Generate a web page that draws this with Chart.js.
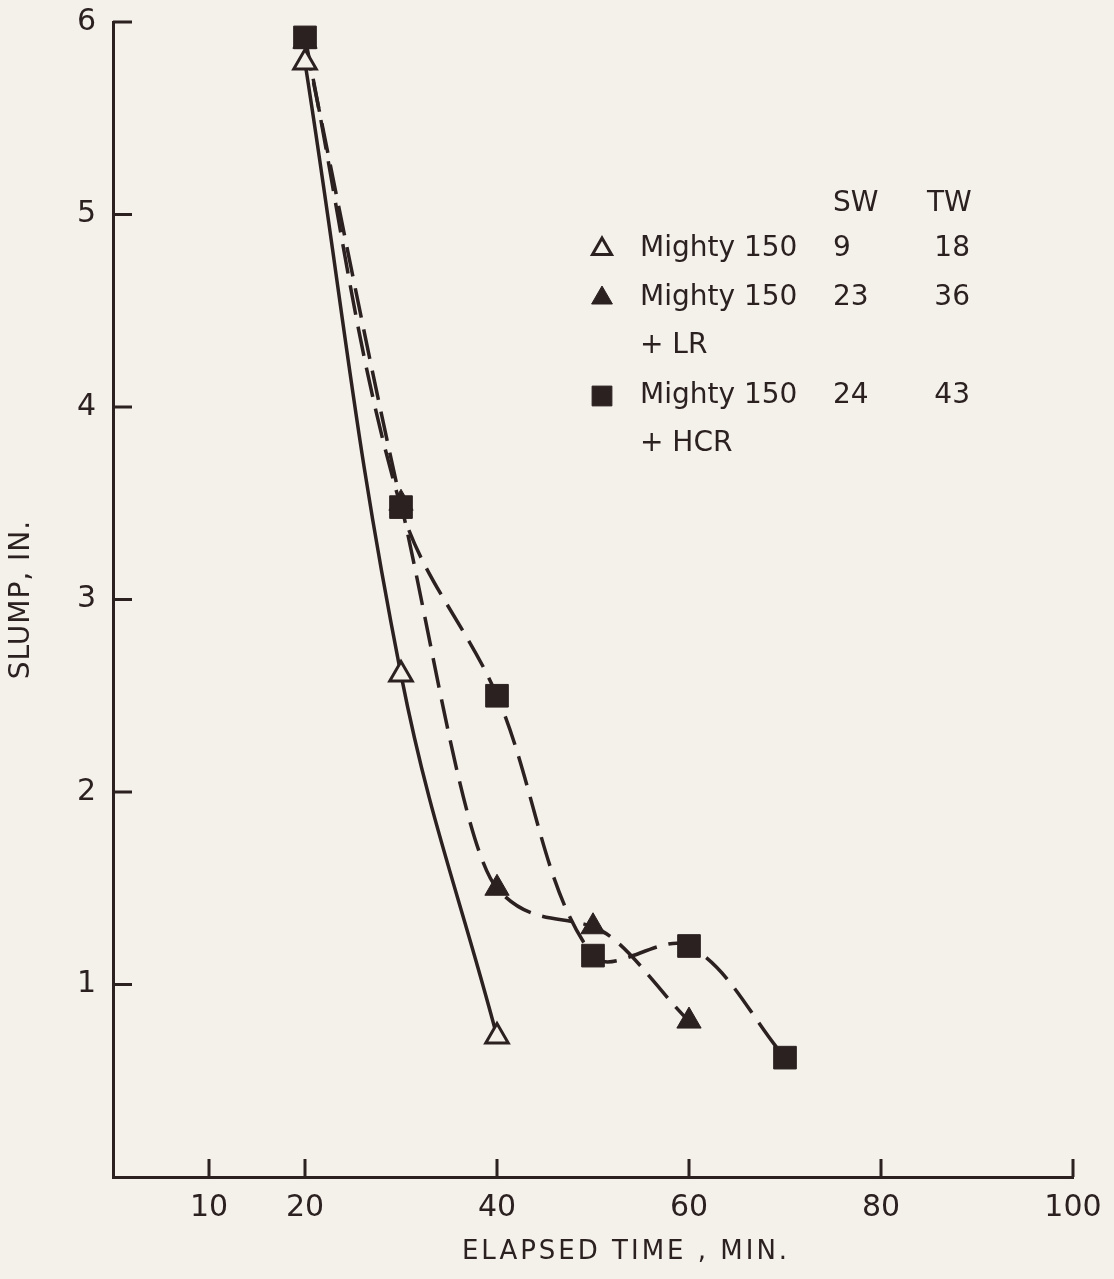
<!DOCTYPE html>
<html>
<head>
<meta charset="utf-8">
<title>Slump loss</title>
<script src="https://cdn.jsdelivr.net/npm/chart.js@4.4.1/dist/chart.umd.min.js"></script>
<style>
  html, body { margin: 0; padding: 0; background: #f4f0ea; }
  #wrap { width: 1114px; height: 1279px; }
</style>
</head>
<body>
<div id="wrap"><canvas id="slumpChart" width="1114" height="1279"></canvas></div>
<script>
const ink = "#2b2121";
const paper = "#f4f0ea";
const font = "'DejaVu Sans', 'Liberation Sans', sans-serif";

// axis ticks
const xTicks = [10, 20, 40, 60, 80, 100];
const yTicks = [1, 2, 3, 4, 5, 6];

// slump (in.) against elapsed time (min.)
const timesPlain = [20, 30, 40];
const slumpPlain = [5.79, 2.61, 0.73];

const timesLR = [20, 30, 40, 50, 60];
const slumpLR = [5.9, 3.5, 1.5, 1.3, 0.81];

const timesHCR = [20, 30, 40, 50, 60, 70];
const slumpHCR = [5.92, 3.48, 2.5, 1.15, 1.2, 0.62];

// key: name, SW and TW columns
const keyNames = [["Mighty 150"], ["Mighty 150", "+ LR"], ["Mighty 150", "+ HCR"]];
const keyStyles = ["open", "triangle", "rect"];
const keySW = ["9", "23", "24"];
const keyTW = ["18", "36", "43"];

const toPoints = (xs, ys) => xs.map((x, i) => ({ x: x, y: ys[i] }));

const markers = {
  open: { pointStyle: "triangle", radius: 13, fill: paper, borderWidth: 3 },
  triangle: { pointStyle: "triangle", radius: 14, fill: ink, borderWidth: 1 },
  rect: { pointStyle: "rect", radius: 16, fill: ink, borderWidth: 1 },
};

const paperBackground = {
  id: "paperBackground",
  beforeDraw(chart) {
    const { ctx, width, height } = chart;
    ctx.save();
    ctx.fillStyle = paper;
    ctx.fillRect(0, 0, width, height);
    ctx.restore();
  },
};

// inward tick marks, axis titles and the key
const annotations = {
  id: "annotations",
  afterDraw(chart) {
    const { ctx, chartArea, scales: { x, y } } = chart;
    ctx.save();
    ctx.strokeStyle = ink;
    ctx.lineWidth = 3;
    ctx.beginPath();
    xTicks.forEach((v) => {
      const px = x.getPixelForValue(v);
      ctx.moveTo(px, chartArea.bottom);
      ctx.lineTo(px, chartArea.bottom - 18);
    });
    yTicks.forEach((v) => {
      const py = y.getPixelForValue(v);
      ctx.moveTo(chartArea.left, py);
      ctx.lineTo(chartArea.left + 19, py);
    });
    ctx.stroke();

    ctx.fillStyle = ink;
    ctx.textBaseline = "middle";

    // x title
    ctx.font = "26px " + font;
    ctx.letterSpacing = "3px";
    ctx.textAlign = "center";
    ctx.fillText("ELAPSED TIME , MIN.", 626, 1252);

    // y title
    ctx.save();
    ctx.translate(22, (chartArea.top + chartArea.bottom) / 2);
    ctx.rotate(-Math.PI / 2);
    ctx.font = "28px " + font;
    ctx.letterSpacing = "1px";
    ctx.fillText("SLUMP, IN.", 0, 0);
    ctx.restore();

    // key
    ctx.letterSpacing = "0px";
    ctx.font = "28px " + font;
    ctx.textAlign = "left";
    ctx.fillText("SW", 833, 204);
    ctx.fillText("TW", 927, 204);
    const rowY = [249, 298, 396];
    keyNames.forEach((lines, i) => {
      const m = markers[keyStyles[i]];
      ctx.fillStyle = m.fill;
      ctx.strokeStyle = ink;
      ctx.lineWidth = m.borderWidth;
      Chart.helpers.drawPoint(ctx, { pointStyle: m.pointStyle, radius: m.radius - 2, rotation: 0, borderWidth: m.borderWidth }, 602, rowY[i]);
      ctx.fillStyle = ink;
      ctx.textAlign = "left";
      lines.forEach((t, j) => ctx.fillText(t, 640, rowY[i] + j * 48));
      ctx.fillText(keySW[i], 833, rowY[i]);
      ctx.textAlign = "right";
      ctx.fillText(keyTW[i], 970, rowY[i]);
    });
    ctx.restore();
  },
};

function series(label, xs, ys, style, dashed, extra) {
  const m = markers[style];
  return Object.assign({
    label: label,
    data: toPoints(xs, ys),
    borderColor: ink,
    borderWidth: 3.5,
    borderDash: dashed ? [30, 12] : [],
    pointStyle: m.pointStyle,
    pointRadius: m.radius,
    pointBackgroundColor: m.fill,
    pointBorderColor: ink,
    pointBorderWidth: m.borderWidth,
    fill: false,
  }, extra);
}

new Chart(document.getElementById("slumpChart"), {
  type: "line",
  data: {
    datasets: [
      series("Mighty 150", timesPlain, slumpPlain, "open", false, { tension: 0.4 }),
      series("Mighty 150 + HCR", timesHCR, slumpHCR, "rect", true, { tension: 0.35 }),
      series("Mighty 150 + LR", timesLR, slumpLR, "triangle", true, { cubicInterpolationMode: "monotone" }),
    ],
  },
  options: {
    responsive: false,
    animation: false,
    devicePixelRatio: 1,
    layout: { padding: { top: 22, right: 41, left: 0, bottom: 0 } },
    plugins: {
      legend: { display: false },
      tooltip: { enabled: false },
    },
    scales: {
      x: {
        type: "linear",
        min: 0,
        max: 100,
        grid: { display: false, drawTicks: false },
        border: { display: true, color: ink, width: 3 },
        ticks: {
          color: ink,
          padding: 13,
          font: { family: font, size: 30 },
        },
        afterBuildTicks(scale) {
          scale.ticks = xTicks.map((v) => ({ value: v }));
        },
        afterFit(scale) {
          scale.height = 102;
          scale.paddingLeft = 0;
          scale.paddingRight = 0;
        },
      },
      y: {
        min: 0,
        max: 6,
        grid: { display: false, drawTicks: false },
        border: { display: true, color: ink, width: 3 },
        ticks: {
          color: ink,
          padding: 17,
          font: { family: font, size: 30 },
        },
        afterBuildTicks(scale) {
          scale.ticks = yTicks.map((v) => ({ value: v }));
        },
        afterFit(scale) {
          scale.width = 113;
          scale.paddingTop = 0;
          scale.paddingBottom = 0;
        },
      },
    },
  },
  plugins: [paperBackground, annotations],
});
</script>
</body>
</html>
